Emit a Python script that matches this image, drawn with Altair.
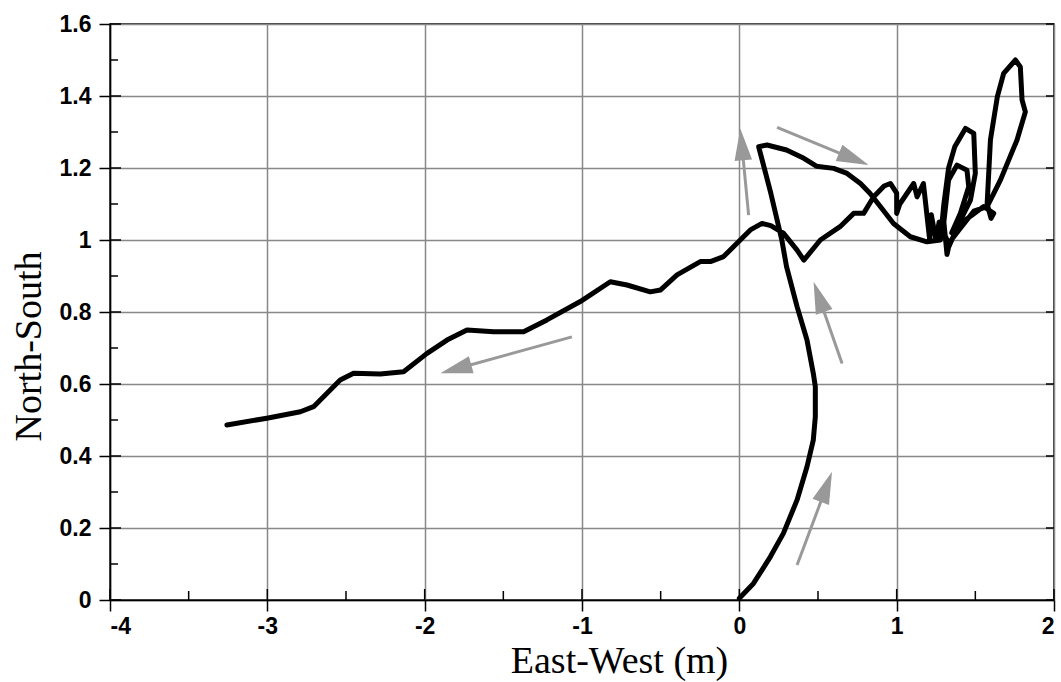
import math
import altair as alt
import pandas as pd

# ---------------- data ----------------
path_x = [0.0, 0.09, 0.197, 0.28, 0.367, 0.43, 0.47, 0.483, 0.483, 0.47, 0.43, 0.367, 0.30, 0.27,
          0.2, 0.123, 0.176, 0.30, 0.41, 0.49, 0.60, 0.685, 0.77, 0.83, 0.896, 0.98, 1.087, 1.193, 1.278,
          1.30, 1.33, 1.37, 1.437, 1.49, 1.50, 1.469, 1.40, 1.33, 1.32,
          1.30, 1.33, 1.384, 1.447, 1.458, 1.405, 1.35,
          1.45, 1.553, 1.617, 1.60, 1.575,
          1.596, 1.64, 1.68, 1.755, 1.786, 1.797, 1.818, 1.765, 1.66, 1.575, 1.49, 1.40, 1.33,
          1.27, 1.25, 1.22, 1.21, 1.17, 1.13, 1.108, 1.02, 1.0, 1.0, 0.96, 0.92, 0.854,
          0.79, 0.727, 0.64, 0.515, 0.41, 0.367, 0.28, 0.2, 0.144, 0.07, -0.015, -0.10, -0.184,
          -0.248, -0.396, -0.502, -0.566, -0.714, -0.82, -1.011, -1.223, -1.371, -1.562, -1.731,
          -1.858, -1.985, -2.134, -2.282, -2.452, -2.537, -2.706, -2.79, -3.003, -3.257]
path_y = [0.005, 0.046, 0.12, 0.185, 0.278, 0.37, 0.444, 0.509, 0.593, 0.63, 0.722, 0.815, 0.926, 1.0,
          1.13, 1.259, 1.264, 1.25, 1.227, 1.205, 1.199, 1.185, 1.157, 1.13, 1.093, 1.046, 1.009, 0.995, 1.0,
          1.10, 1.20, 1.26, 1.31, 1.296, 1.185, 1.111, 1.05, 0.98, 0.96,
          1.05, 1.167, 1.208, 1.194, 1.148, 1.074, 1.02,
          1.06, 1.093, 1.074, 1.06, 1.10,
          1.278, 1.398, 1.463, 1.5, 1.481, 1.389, 1.356, 1.278, 1.167, 1.093, 1.08, 1.03, 0.99,
          1.05, 1.0, 1.07, 1.0, 1.157, 1.12, 1.157, 1.10, 1.074, 1.13, 1.157, 1.15, 1.12,
          1.074, 1.074, 1.037, 1.0, 0.944, 0.972, 1.019, 1.04, 1.046, 1.028, 0.991, 0.954, 0.94,
          0.94, 0.903, 0.861, 0.856, 0.875, 0.884, 0.829, 0.778, 0.745, 0.745, 0.75,
          0.722, 0.685, 0.634, 0.628, 0.63, 0.611, 0.537, 0.523, 0.505, 0.486]

arrow_x1 = [0.367, 0.653, 0.059, 0.24, -1.064]
arrow_y1 = [0.097, 0.657, 1.069, 1.313, 0.731]
arrow_x2 = [0.589, 0.472, 0.006, 0.822, -1.90]
arrow_y2 = [0.356, 0.884, 1.31, 1.208, 0.63]

x_ticks = [-4, -3, -2, -1, 0, 1, 2]
x_minor = [-3.5, -2.5, -1.5, -0.5, 0.5, 1.5]
y_ticks = [0, 0.2, 0.4, 0.6, 0.8, 1.0, 1.2, 1.4, 1.6]
y_minor = [0.1, 0.3, 0.5, 0.7, 0.9, 1.1, 1.3, 1.5]

# ---------------- layout ----------------
W, H = 944, 576
XD, YD = [-4, 2], [0, 1.6]
sx = W / (XD[1] - XD[0])
sy = H / (YD[1] - YD[0])
HEAD = 32

path_df = pd.DataFrame({"x": path_x, "y": path_y, "i": range(len(path_x))})

rows = []
for x1, y1, x2, y2 in zip(arrow_x1, arrow_y1, arrow_x2, arrow_y2):
    dxp, dyp = (x2 - x1) * sx, (y2 - y1) * sy
    L = math.hypot(dxp, dyp)
    ang = math.degrees(math.atan2(dxp, dyp)) % 360
    back = HEAD * 0.7
    xs = x2 - dxp / L * back / sx
    ys = y2 - dyp / L * back / sy
    rows.append({"x1": x1, "y1": y1, "x2": x2, "y2": y2, "xs": xs, "ys": ys, "ang": ang})
arrow_df = pd.DataFrame(rows)

xscale = alt.Scale(domain=XD, nice=False, zero=False)
yscale = alt.Scale(domain=YD, nice=False, zero=False)
lab = "replace(format(datum.value, '~g'), '\u2212', '-')"

xaxis = alt.Axis(values=x_ticks, labelExpr=lab, title="East-West (m)", grid=True,
                 titleX=509, titleY=72, titleBaseline="alphabetic", labelPadding=4)
yaxis = alt.Axis(values=y_ticks, labelExpr=lab, title="North-South", grid=True,
                 titleX=-70, titleY=322, titleBaseline="alphabetic", labelPadding=8)

line = alt.Chart(path_df).mark_line(color="black", strokeWidth=5, strokeJoin="round",
                                    strokeCap="round").encode(
    x=alt.X("x:Q", scale=xscale, axis=xaxis),
    y=alt.Y("y:Q", scale=yscale, axis=yaxis),
    order="i:Q",
)

stems = alt.Chart(arrow_df).mark_rule(color="#999999", strokeWidth=3).encode(
    x=alt.X("x1:Q", scale=xscale), y=alt.Y("y1:Q", scale=yscale),
    x2="xs:Q", y2="ys:Q",
)
heads = alt.Chart(arrow_df).mark_point(
    shape="M0,0L-0.55,2L0.55,2Z", filled=True, color="#999999", opacity=1, size=HEAD * HEAD
).encode(
    x=alt.X("x2:Q", scale=xscale), y=alt.Y("y2:Q", scale=yscale),
    angle=alt.Angle("ang:Q", scale=None),
)

ymaj = pd.DataFrame({"v": y_ticks})
ymin = pd.DataFrame({"v": y_minor})
xmaj = pd.DataFrame({"v": x_ticks})
xmin = pd.DataFrame({"v": x_minor})

tk = dict(color="black", strokeWidth=1.5)
t1 = alt.Chart(ymaj).mark_rule(**tk).encode(y=alt.Y("v:Q", scale=yscale), x=alt.value(0), x2=alt.value(11))
t2 = alt.Chart(ymin).mark_rule(**tk).encode(y=alt.Y("v:Q", scale=yscale), x=alt.value(0), x2=alt.value(8))
t3 = alt.Chart(ymaj).mark_rule(**tk).encode(y=alt.Y("v:Q", scale=yscale), x=alt.value(W - 8), x2=alt.value(W))
t4 = alt.Chart(xmaj).mark_rule(**tk).encode(x=alt.X("v:Q", scale=xscale), y=alt.value(H), y2=alt.value(H - 11))
t5 = alt.Chart(xmin).mark_rule(**tk).encode(x=alt.X("v:Q", scale=xscale), y=alt.value(H), y2=alt.value(H - 9))

chart = alt.layer(t1, t2, t3, t4, t5, line, stems, heads).properties(
    width=W, height=H,
    autosize=alt.AutoSizeParams(type="none"),
    padding={"left": 110, "top": 24, "right": 7, "bottom": 82},
    background="white",
).configure_view(stroke="black", strokeWidth=1.5).configure_axis(
    domainColor="black", domainWidth=1.5,
    tickColor="black", tickWidth=1.5, tickSize=11,
    gridColor="#888888", gridWidth=1.5, gridOpacity=1,
    labelFont="Liberation Sans", labelFontSize=23, labelFontWeight="bold", labelColor="black",
    titleFont="Liberation Serif", titleFontSize=38, titleFontWeight="normal", titleColor="black",
)

chart.save("out.html", embed_options={"renderer": "svg", "actions": False})
